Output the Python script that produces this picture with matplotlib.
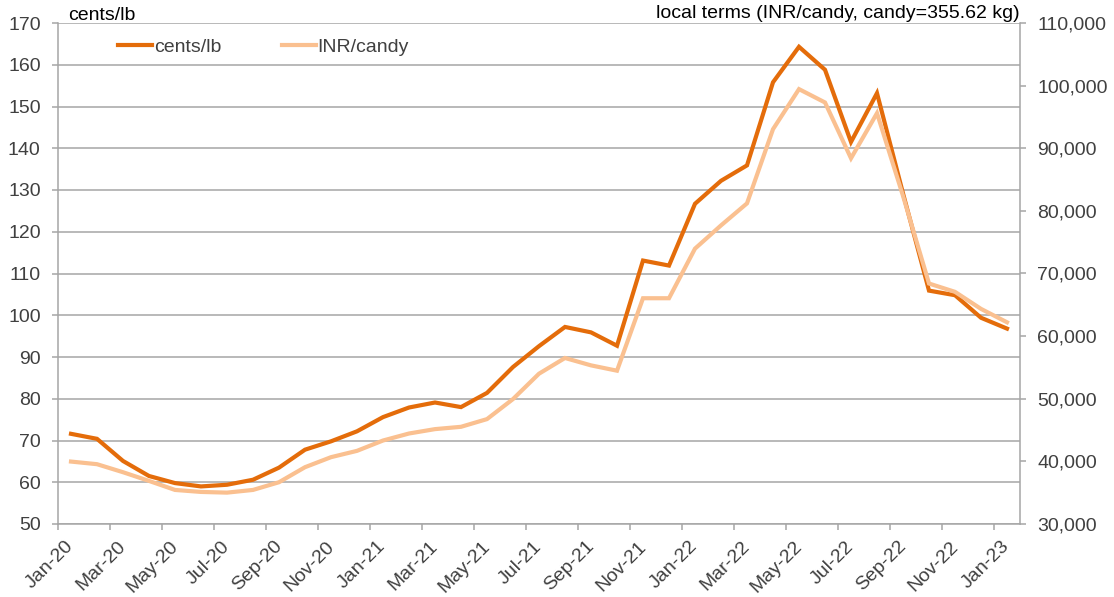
import matplotlib.pyplot as plt
from matplotlib.lines import Line2D
from matplotlib.ticker import FuncFormatter, FixedLocator
import numpy as np

plt.rcParams['font.family'] = ['Liberation Sans', 'DejaVu Sans']

# monthly series, Jan-20 .. Jan-23
months = ['Jan-20', 'Feb-20', 'Mar-20', 'Apr-20', 'May-20', 'Jun-20', 'Jul-20', 'Aug-20',
          'Sep-20', 'Oct-20', 'Nov-20', 'Dec-20', 'Jan-21', 'Feb-21', 'Mar-21', 'Apr-21',
          'May-21', 'Jun-21', 'Jul-21', 'Aug-21', 'Sep-21', 'Oct-21', 'Nov-21', 'Dec-21',
          'Jan-22', 'Feb-22', 'Mar-22', 'Apr-22', 'May-22', 'Jun-22', 'Jul-22', 'Aug-22',
          'Sep-22', 'Oct-22', 'Nov-22', 'Dec-22', 'Jan-23']
cents_lb = [71.6, 70.4, 65.1, 61.5, 59.8, 59.0, 59.4, 60.6, 63.5, 67.8, 69.8, 72.2,
            75.6, 77.9, 79.1, 78.0, 81.4, 87.6, 92.6, 97.2, 95.9, 92.7, 113.1, 111.9,
            126.7, 132.2, 135.9, 155.8, 164.3, 158.8, 141.5, 153.2, 129.2, 105.9, 104.8,
            99.4, 96.8]
inr_candy = [39970, 39550, 38270, 36880, 35440, 35120, 35010, 35440, 36670, 39070, 40670,
             41680, 43330, 44450, 45150, 45520, 46750, 49950, 54000, 56510, 55330, 54480,
             66050, 66050, 73970, 77680, 81200, 93040, 99440, 97310, 88400, 95600, 82400,
             68400, 67070, 64350, 62210]

dark = '#E46C0A'
light = '#FAC090'
grey = '#A6A6A6'
txt = '#404040'
fs = 14

fig = plt.figure(figsize=(11.14, 5.97), dpi=100)
ax = fig.add_axes([58/1114, 1-524/597, 962/1114, 501/597])
ax2 = ax.twinx()

x = np.arange(len(months))
ax.plot(x, cents_lb, color=dark, lw=3, solid_joinstyle='miter')
ax2.plot(x, inr_candy, color=light, lw=3, solid_joinstyle='miter')

ax.set_xlim(-0.5, len(months) - 0.5)
ax.set_ylim(50, 170)
ax.set_yticks(np.arange(50, 171, 10))
ax2.set_ylim(30000, 110000)
ax2.set_yticks(np.arange(30000, 110001, 10000))
ax2.yaxis.set_major_formatter(FuncFormatter(lambda v, p: f'{int(v):,}'))

ax.grid(axis='y', color=grey, lw=1.1)
ax.set_axisbelow(True)

# labels every 2 months (nudged a little left like excel), tick marks between categories
ax.set_xticks(x[::2] - 0.22)
ax.set_xticklabels(months[::2], rotation=45, ha='right', va='top', rotation_mode='anchor')
ax.xaxis.set_minor_locator(FixedLocator(np.arange(-0.5, len(months) - 1, 2)))
ax.tick_params(axis='x', which='major', length=0, pad=10, labelsize=fs, labelcolor=txt)
ax.tick_params(axis='x', which='minor', length=4.5, width=1.1, color=grey)
ax.tick_params(axis='y', length=4.5, width=1.1, color=grey, labelsize=fs, labelcolor=txt, pad=8)
ax2.tick_params(axis='y', length=4.5, width=1.1, color=grey, labelsize=fs, labelcolor=txt, pad=8)

for a in (ax, ax2):
    for s in a.spines.values():
        s.set_visible(False)
ax.spines['left'].set_visible(True)
ax.spines['bottom'].set_visible(True)
ax2.spines['right'].set_visible(True)
for s in (ax.spines['left'], ax.spines['bottom'], ax2.spines['right']):
    s.set_color(grey)
    s.set_linewidth(1.1)

ax.text(0.0105, 1.006, 'cents/lb', transform=ax.transAxes, fontsize=fs, ha='left', va='baseline')
ax.text(1.0, 1.009, 'local terms (INR/candy, candy=355.62 kg)', transform=ax.transAxes,
        fontsize=fs, ha='right', va='baseline')

handles = [Line2D([], [], color=dark, lw=3), Line2D([], [], color=light, lw=3)]
leg = ax2.legend(handles, ['cents/lb', 'INR/candy'], loc='center left',
                 bbox_to_anchor=(0.0624, 0.952), ncol=2, frameon=False, fontsize=fs,
                 handlelength=1.75, handletextpad=0.1, columnspacing=3.1,
                 borderpad=0, borderaxespad=0)
for t in leg.get_texts():
    t.set_color(txt)

fig.savefig('out.png', dpi=100)
